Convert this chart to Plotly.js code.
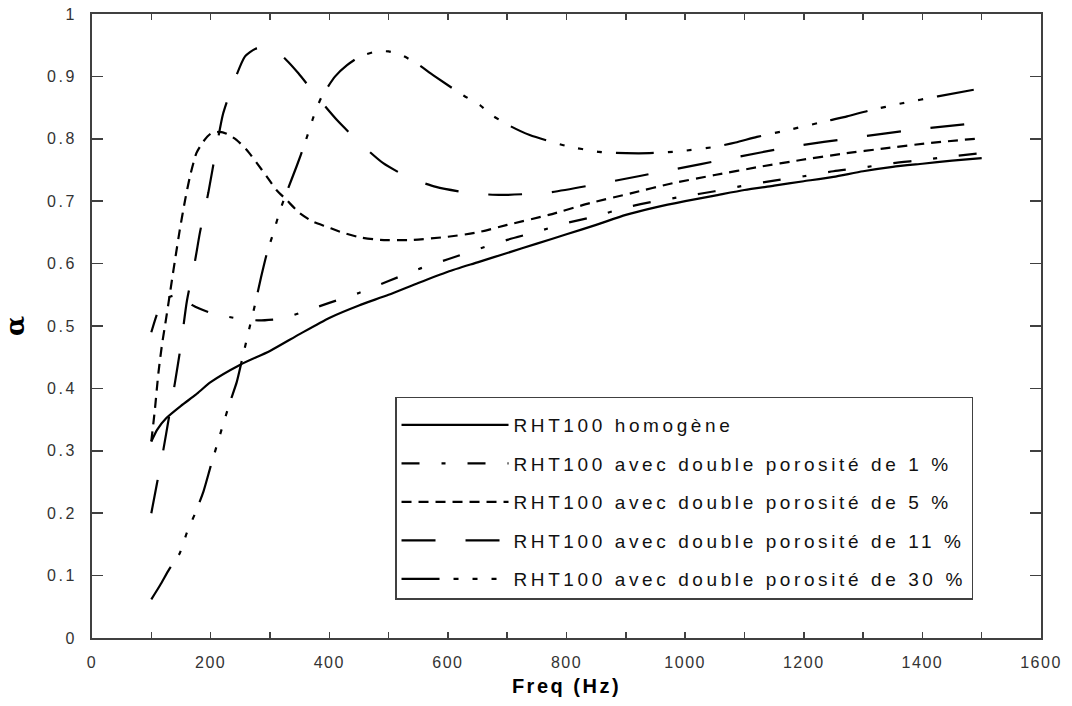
<!DOCTYPE html>
<html><head><meta charset="utf-8">
<script src="https://cdn.plot.ly/plotly-3.0.1.min.js"></script>
<style>
body{margin:0;background:#fff}
#chart{width:1072px;height:706px}
.legendtext{letter-spacing:3.6px}
.xtick text{letter-spacing:1.5px}
.ytick text{letter-spacing:2.5px}
.g-xtitle text{letter-spacing:2.5px}
</style></head><body><div id="chart"></div>
<script>
// Series labels
const seriesNames = [
  "RHT100 homogène",
  "RHT100 avec double porosité de 1 %",
  "RHT100 avec double porosité de 5 %",
  "RHT100 avec double porosité de 11 %",
  "RHT100 avec double porosité de 30 %"
];

// Homogeneous
const freqHom  = [100,110,125,150,175,200,250,300,350,400,450,500,550,600,650,700,750,800,850,900,950,1000,1050,1100,1150,1200,1250,1300,1350,1400,1450,1500];
const alphaHom = [0.315,0.334,0.352,0.372,0.39,0.41,0.438,0.46,0.487,0.513,0.533,0.55,0.569,0.587,0.602,0.617,0.632,0.647,0.662,0.678,0.69,0.7,0.709,0.718,0.725,0.732,0.739,0.748,0.755,0.76,0.765,0.769];

// 1 %
const freqP1  = [100,112,125,140,155,170,200,240,280,320,360,400,450,500,550,600,650,700,750,800,850,900,950,1000,1050,1100,1150,1200,1250,1300,1350,1400,1450,1500];
const alphaP1 = [0.49,0.525,0.544,0.549,0.545,0.533,0.521,0.513,0.509,0.512,0.524,0.537,0.553,0.572,0.591,0.607,0.623,0.638,0.651,0.665,0.676,0.69,0.7,0.708,0.716,0.725,0.733,0.74,0.748,0.754,0.761,0.766,0.772,0.777];

// 5 %
const freqP5  = [100,106,112,118,123,129,135,140,148,157,165,176,188,200,215,227,244,261,278,295,311,328,350,373,396,418,452,486,540,600,650,700,770,840,910,980,1050,1125,1195,1265,1340,1410,1500];
const alphaP5 = [0.315,0.366,0.425,0.47,0.5,0.537,0.575,0.606,0.654,0.702,0.739,0.777,0.796,0.808,0.811,0.808,0.798,0.782,0.761,0.739,0.718,0.702,0.681,0.667,0.659,0.651,0.642,0.638,0.638,0.643,0.65,0.662,0.678,0.697,0.713,0.729,0.742,0.755,0.766,0.776,0.785,0.793,0.801];

// 11 %
const freqP11  = [100,110,120,130,140,150,160,174,182,196,210,221,238,258,275,290,311,328,348,379,413,452,491,536,580,637,690,770,872,975,1078,1181,1287,1390,1500];
const alphaP11 = [0.2,0.25,0.3,0.355,0.41,0.47,0.54,0.606,0.65,0.713,0.787,0.84,0.888,0.932,0.944,0.946,0.94,0.926,0.905,0.868,0.83,0.793,0.761,0.737,0.723,0.713,0.71,0.714,0.731,0.75,0.769,0.7875,0.802,0.815,0.826];

// 30 %
const freqP30  = [100,115,130,148,160,174,188,200,210,221,232,244,253,263,275,285,295,306,317,328,345,359,373,387,410,430,452,480,500,520,547,575,627,654,674,706,738,798,855,900,940,990,1050,1085,1121,1178,1241,1273,1309,1366,1426,1500];
const alphaP30 = [0.062,0.085,0.11,0.136,0.169,0.2,0.235,0.275,0.307,0.342,0.376,0.41,0.446,0.487,0.535,0.578,0.617,0.65,0.685,0.714,0.756,0.793,0.834,0.867,0.9,0.918,0.932,0.94,0.94,0.935,0.921,0.902,0.869,0.854,0.838,0.82,0.806,0.789,0.779,0.777,0.777,0.78,0.787,0.794,0.803,0.815,0.829,0.836,0.845,0.857,0.868,0.881];

// Axis ticks
const xTickVals = [0,100,200,300,400,500,600,700,800,900,1000,1100,1200,1300,1400,1500,1600];
const xTickText = ["0","","200","","400","","600","","800","","1000","","1200","","1400","","1600"];
const yTickVals = [0,0.1,0.2,0.3,0.4,0.5,0.6,0.7,0.8,0.9,1];
const yTickText = ["0","0.1","0.2","0.3","0.4","0.5","0.6","0.7","0.8","0.9","1"];

const xs = [freqHom, freqP1, freqP5, freqP11, freqP30];
const ys = [alphaHom, alphaP1, alphaP5, alphaP11, alphaP30];
const dashes = ["solid", "18px,22px,4px,22px", "10px,7px", "34px,30px", "38px,14px,5px,14px,5px,14px,5px,14px"];

const traces = xs.map((x, i) => ({
  x: x, y: ys[i], type: "scatter", mode: "lines",
  name: seriesNames[i], legendgroup: "g" + i,
  line: {color: "#000", width: 2.2, dash: dashes[i], shape: "spline", smoothing: 0.6}
}));

const tickFont = {family: "Liberation Sans, Arial, sans-serif", size: 16, color: "#333"};
const layout = {
  width: 1072, height: 706,
  margin: {l: 92, r: 31, t: 14, b: 68, pad: 0},
  paper_bgcolor: "#fff", plot_bgcolor: "#fff",
  showlegend: true,
  xaxis: {
    range: [0, 1600], tickmode: "array", tickvals: xTickVals, ticktext: xTickText,
    ticks: "inside", ticklen: 6, tickwidth: 1.5, tickcolor: "#404040",
    showline: true, linecolor: "#404040", linewidth: 2, mirror: "ticks",
    showgrid: false, zeroline: false, tickfont: tickFont, ticklabelstandoff: 9,
    title: {text: "Freq (Hz)", font: {family: "Liberation Sans, Arial, sans-serif", size: 20, color: "#000", weight: "bold"}, standoff: 9}
  },
  yaxis: {
    range: [0, 1], tickmode: "array", tickvals: yTickVals, ticktext: yTickText,
    ticks: "inside", ticklen: 11, tickwidth: 1.5, tickcolor: "#404040",
    showline: true, linecolor: "#404040", linewidth: 2, mirror: "ticks",
    showgrid: false, zeroline: false, tickfont: tickFont, ticklabelstandoff: 10,
    title: {text: "α", font: {family: "DejaVu Serif, serif", size: 26, color: "#000", weight: "bold"}, standoff: 18}
  },
  legend: {
    x: 0.3193, y: 0.3867, xanchor: "left", yanchor: "top",
    bgcolor: "#fff", bordercolor: "#404040", borderwidth: 1.5,
    font: {family: "Liberation Sans, Arial, sans-serif", size: 19, color: "#111"},
    title: {text: " ", font: {size: 6}},
    traceorder: "grouped", tracegroupgap: 10.8, itemwidth: 107
  }
};

Plotly.newPlot("chart", traces, layout, {displayModeBar: false, staticPlot: true});
</script></body></html>
